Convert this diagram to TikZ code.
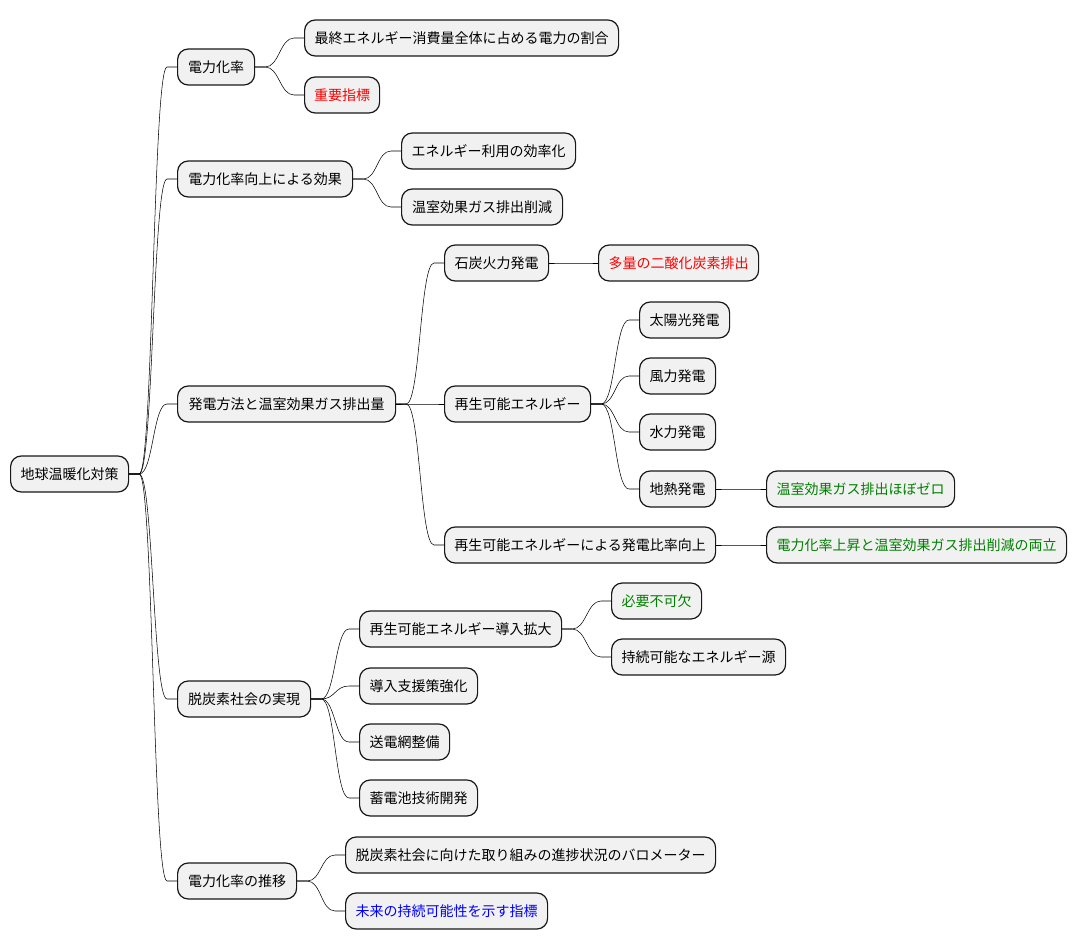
\documentclass[tikz,border=0pt]{standalone}
\usepackage{fontspec}
\setmainfont{Noto Sans CJK JP}
\usetikzlibrary{calc}

\definecolor{boxfill}{HTML}{F1F1F1}
\definecolor{boxline}{HTML}{181818}
\definecolor{mmgreen}{HTML}{008000}

\begin{document}
\begin{tikzpicture}[x=0.75pt, y=-0.75pt]
		\tikzset{topic/.style = {shape=rectangle, draw=boxline, line width=0.9pt, fill=boxfill, rounded corners=8pt, anchor=west, minimum height=27pt, inner xsep=0pt, font=\fontsize{10.5pt}{12pt}\selectfont}}
		\tikzset{mmlink/.style = {line width=0.7pt, to path={-- ++(10,0) .. controls +(14,0) and +(-14,0) .. ([xshift=-7.5pt]\tikztotarget.west) -- (\tikztotarget.west)}}}

		\useasboundingbox (0,0) rectangle (1076,949);

		\node[topic, minimum width=88.5pt] (R) at (10,474) {地球温暖化対策};

		\node[topic, minimum width=57.75pt] (A_1) at (177,67) {電力化率};
		\node[topic, minimum width=131.25pt] (A_2) at (177,179) {電力化率向上による効果};
		\node[topic, minimum width=163.5pt] (A_3) at (177,404) {発電方法と温室効果ガス排出量};
		\node[topic, minimum width=99.75pt] (A_4) at (177,699) {脱炭素社会の実現};
		\node[topic, minimum width=89.25pt] (A_5) at (177,881) {電力化率の推移};

		\node[topic, minimum width=235.5pt] (B_1) at (304,38) {最終エネルギー消費量全体に占める電力の割合};
		\node[topic, minimum width=56.25pt, text=red] (B_2) at (304,95) {重要指標};

		\node[topic, minimum width=130.5pt] (B_3) at (401,151) {エネルギー利用の効率化};
		\node[topic, minimum width=120.75pt] (B_4) at (401,207) {温室効果ガス排出削減};

		\node[topic, minimum width=78pt] (B_5) at (444,263) {石炭火力発電};
		\node[topic, minimum width=120pt, text=red] (C_1) at (598,263) {多量の二酸化炭素排出};
		\node[topic, minimum width=109.5pt] (B_6) at (444,404) {再生可能エネルギー};
		\node[topic, minimum width=67.5pt] (C_2) at (639,320) {太陽光発電};
		\node[topic, minimum width=57pt] (C_3) at (639,376) {風力発電};
		\node[topic, minimum width=57pt] (C_4) at (639,432) {水力発電};
		\node[topic, minimum width=57pt] (C_5) at (639,489) {地熱発電};
		\node[topic, minimum width=141pt, text=mmgreen] (D_1) at (766,489) {温室効果ガス排出ほぼゼロ};
		\node[topic, minimum width=203.25pt] (B_7) at (444,545) {再生可能エネルギーによる発電比率向上};
		\node[topic, minimum width=225pt, text=mmgreen] (C_6) at (766,545) {電力化率上昇と温室効果ガス排出削減の両立};

		\node[topic, minimum width=151.5pt] (B_8) at (359,629) {再生可能エネルギー導入拡大};
		\node[topic, minimum width=67.5pt, text=mmgreen] (C_7) at (611,601) {必要不可欠};
		\node[topic, minimum width=130.5pt] (C_8) at (611,657) {持続可能なエネルギー源};
		\node[topic, minimum width=88.5pt] (B_9) at (359,686) {導入支援策強化};
		\node[topic, minimum width=67.5pt] (B_10) at (359,742) {送電網整備};
		\node[topic, minimum width=88.5pt] (B_11) at (359,798) {蓄電池技術開発};

		\node[topic, minimum width=277.5pt] (B_12) at (345,855) {脱炭素社会に向けた取り組みの進捗状況のバロメーター};
		\node[topic, minimum width=151.5pt, text=blue] (B_13) at (345,911) {未来の持続可能性を示す指標};


		\draw (R.east) to[mmlink] (A_1);
		\draw (R.east) to[mmlink] (A_2);
		\draw (R.east) to[mmlink] (A_3);
		\draw (R.east) to[mmlink] (A_4);
		\draw (R.east) to[mmlink] (A_5);

		\draw (A_1.east) to[mmlink] (B_1);
		\draw (A_1.east) to[mmlink] (B_2);
		\draw (A_2.east) to[mmlink] (B_3);
		\draw (A_2.east) to[mmlink] (B_4);
		\draw (A_3.east) to[mmlink] (B_5);
		\draw (A_3.east) to[mmlink] (B_6);
		\draw (A_3.east) to[mmlink] (B_7);
		\draw (A_4.east) to[mmlink] (B_8);
		\draw (A_4.east) to[mmlink] (B_9);
		\draw (A_4.east) to[mmlink] (B_10);
		\draw (A_4.east) to[mmlink] (B_11);
		\draw (A_5.east) to[mmlink] (B_12);
		\draw (A_5.east) to[mmlink] (B_13);

		\draw (B_5.east) to[mmlink] (C_1);
		\draw (B_6.east) to[mmlink] (C_2);
		\draw (B_6.east) to[mmlink] (C_3);
		\draw (B_6.east) to[mmlink] (C_4);
		\draw (B_6.east) to[mmlink] (C_5);
		\draw (C_5.east) to[mmlink] (D_1);
		\draw (B_7.east) to[mmlink] (C_6);
		\draw (B_8.east) to[mmlink] (C_7);
		\draw (B_8.east) to[mmlink] (C_8);

	\end{tikzpicture}
\end{document}
